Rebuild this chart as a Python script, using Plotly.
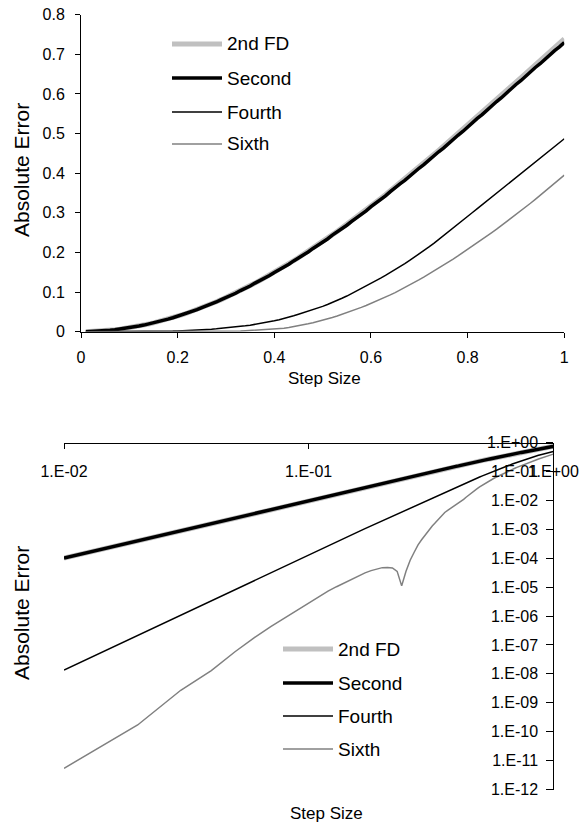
import plotly.graph_objects as go

# Step sizes h used for every scheme
step_size = [
    0.01, 0.02, 0.03, 0.04, 0.05, 0.06, 0.07, 0.08, 0.09, 0.10,
    0.11, 0.12, 0.13, 0.14, 0.15, 0.16, 0.17, 0.18, 0.19, 0.20,
    0.21, 0.22, 0.23, 0.24, 0.25, 0.26, 0.27, 0.28, 0.29, 0.30,
    0.31, 0.32, 0.33, 0.34, 0.35, 0.36, 0.37, 0.38, 0.39, 0.40,
    0.41, 0.42, 0.43, 0.44, 0.45, 0.46, 0.47, 0.48, 0.49, 0.50,
    0.51, 0.52, 0.53, 0.54, 0.55, 0.56, 0.57, 0.58, 0.59, 0.60,
    0.61, 0.62, 0.63, 0.64, 0.65, 0.66, 0.67, 0.68, 0.69, 0.70,
    0.71, 0.72, 0.73, 0.74, 0.75, 0.76, 0.77, 0.78, 0.79, 0.80,
    0.81, 0.82, 0.83, 0.84, 0.85, 0.86, 0.87, 0.88, 0.89, 0.90,
    0.91, 0.92, 0.93, 0.94, 0.95, 0.96, 0.97, 0.98, 0.99, 1.00,
]

# Absolute error of the second-order finite difference
err_2nd_fd = [
    1.00e-4, 4.00e-4, 9.00e-4, 1.60e-3, 2.50e-3, 3.59e-3, 4.89e-3, 6.37e-3, 8.05e-3, 9.93e-3,
    0.0120, 0.0143, 0.0167, 0.0194, 0.0222, 0.0253, 0.0285, 0.0318, 0.0354, 0.0391,
    0.0431, 0.0472, 0.0515, 0.0560, 0.0606, 0.0654, 0.0704, 0.0756, 0.0809, 0.0864,
    0.0920, 0.0978, 0.1038, 0.1099, 0.1162, 0.1226, 0.1292, 0.1359, 0.1428, 0.1498,
    0.1570, 0.1642, 0.1717, 0.1793, 0.1870, 0.1949, 0.2029, 0.2109, 0.2192, 0.2275,
    0.2360, 0.2445, 0.2532, 0.2621, 0.2710, 0.2800, 0.2892, 0.2984, 0.3077, 0.3171,
    0.3266, 0.3362, 0.3459, 0.3557, 0.3655, 0.3755, 0.3855, 0.3957, 0.4058, 0.4160,
    0.4263, 0.4371, 0.4471, 0.4576, 0.4681, 0.4786, 0.4892, 0.5000, 0.5106, 0.5214,
    0.5321, 0.5429, 0.5537, 0.5645, 0.5754, 0.5862, 0.5973, 0.6083, 0.6190, 0.6300,
    0.6409, 0.6517, 0.6628, 0.6737, 0.6847, 0.6956, 0.7065, 0.7174, 0.7282, 0.7388,
]

# Absolute error of the second-order scheme
err_second = [
    1.00e-4, 4.00e-4, 8.99e-4, 1.60e-3, 2.49e-3, 3.59e-3, 4.88e-3, 6.36e-3, 8.04e-3, 9.91e-3,
    0.0120, 0.0142, 0.0167, 0.0193, 0.0222, 0.0252, 0.0284, 0.0317, 0.0353, 0.0390,
    0.0432, 0.0468, 0.0516, 0.0555, 0.0608, 0.0649, 0.0706, 0.0750, 0.0810, 0.0857,
    0.0921, 0.0970, 0.1038, 0.1090, 0.1153, 0.1226, 0.1282, 0.1358, 0.1417, 0.1496,
    0.1558, 0.1639, 0.1704, 0.1787, 0.1856, 0.1943, 0.2012, 0.2102, 0.2175, 0.2267,
    0.2340, 0.2436, 0.2511, 0.2609, 0.2687, 0.2786, 0.2867, 0.2969, 0.3050, 0.3154,
    0.3237, 0.3343, 0.3428, 0.3536, 0.3621, 0.3731, 0.3818, 0.3930, 0.4018, 0.4131,
    0.4221, 0.4335, 0.4426, 0.4541, 0.4633, 0.4749, 0.4841, 0.4958, 0.5052, 0.5170,
    0.5264, 0.5382, 0.5477, 0.5595, 0.5690, 0.5809, 0.5905, 0.6024, 0.6119, 0.6239,
    0.6334, 0.6453, 0.6549, 0.6668, 0.6763, 0.6882, 0.6976, 0.7094, 0.7188, 0.7300,
]

# Absolute error of the fourth-order scheme
err_fourth = [
    1.35e-8, 2.16e-7, 1.09e-6, 3.46e-6, 8.41e-6, 1.74e-5, 3.19e-5, 5.41e-5, 8.60e-5, 1.30e-4,
    1.90e-4, 2.67e-4, 3.66e-4, 4.90e-4, 6.43e-4, 8.29e-4, 1.052e-3, 1.312e-3, 1.622e-3, 1.984e-3,
    2.392e-3, 2.858e-3, 3.386e-3, 3.981e-3, 4.648e-3, 5.392e-3, 6.218e-3, 7.130e-3, 8.169e-3, 9.315e-3,
    0.01053, 0.01185, 0.01328, 0.01483, 0.01651, 0.01831, 0.02024, 0.02242, 0.02475, 0.02740,
    0.0303, 0.0330, 0.0366, 0.0402, 0.0440, 0.0477, 0.0516, 0.0561, 0.0597, 0.0640,
    0.0688, 0.0737, 0.0781, 0.0843, 0.0900, 0.0962, 0.1025, 0.1095, 0.1153, 0.1220,
    0.1285, 0.1352, 0.1421, 0.1492, 0.1565, 0.1640, 0.1718, 0.1798, 0.1880, 0.1964,
    0.2050, 0.2139, 0.2231, 0.2325, 0.2421, 0.2518, 0.2616, 0.2714, 0.2812, 0.2910,
    0.3008, 0.3106, 0.3204, 0.3302, 0.3400, 0.3498, 0.3596, 0.3694, 0.3792, 0.3890,
    0.3988, 0.4086, 0.4184, 0.4282, 0.4380, 0.4478, 0.4576, 0.4674, 0.4772, 0.4870,
]

# Absolute error of the sixth-order scheme
err_sixth = [
    5.4e-12, 1.7e-10, 2.7e-9, 1.3e-8, 5.8e-8, 1.8e-7, 4.3e-7, 8.7e-7, 1.6e-6, 2.7e-6,
    4.6e-6, 7.2e-6, 1.03e-5, 1.4e-5, 1.9e-5, 2.5e-5, 3.1e-5, 3.7e-5, 4.3e-5, 4.7e-5,
    4.8e-5, 4.6e-5, 3.5e-5, 1.1e-5, 3.5e-5, 8.5e-5, 1.6e-4, 2.9e-4, 4.4e-4, 6.5e-4,
    9.5e-4, 1.3e-3, 1.7e-3, 2.3e-3, 3.0e-3, 3.8e-3, 4.5e-3, 5.2e-3, 6.1e-3, 7.0e-3,
    8.0e-3, 9.0e-3, 0.0108, 0.0128, 0.0150, 0.0174, 0.0200, 0.0228, 0.0258, 0.0290,
    0.0324, 0.0360, 0.0398, 0.0438, 0.0480, 0.0523, 0.0568, 0.0614, 0.0662, 0.0712,
    0.0763, 0.0816, 0.0871, 0.0928, 0.0987, 0.1048, 0.1111, 0.1176, 0.1243, 0.1312,
    0.1383, 0.1455, 0.1528, 0.1603, 0.1678, 0.1755, 0.1833, 0.1912, 0.1993, 0.2074,
    0.2157, 0.2241, 0.2326, 0.2412, 0.2500, 0.2588, 0.2678, 0.2769, 0.2861, 0.2954,
    0.3049, 0.3144, 0.3241, 0.3339, 0.3438, 0.3538, 0.3640, 0.3742, 0.3846, 0.3951,
]

series_names = ["2nd FD", "Second", "Fourth", "Sixth"]
series_values = [err_2nd_fd, err_second, err_fourth, err_sixth]

lin_ticks = [0, 0.2, 0.4, 0.6, 0.8, 1]
log_x_ticks = [1e-2, 1e-1, 1e0]
log_x_text = ["1.E-02", "1.E-01", "1.E+00"]
log_y_ticks = [1e0, 1e-1, 1e-2, 1e-3, 1e-4, 1e-5, 1e-6, 1e-7, 1e-8, 1e-9, 1e-10, 1e-11, 1e-12]
log_y_text = ["1.E+00", "1.E-01", "1.E-02", "1.E-03", "1.E-04", "1.E-05", "1.E-06",
              "1.E-07", "1.E-08", "1.E-09", "1.E-10", "1.E-11", "1.E-12"]

FONT = "Liberation Sans, Arial, sans-serif"
line_styles = [
    dict(color="#c0c0c0", width=5),
    dict(color="#000000", width=3.5),
    dict(color="#000000", width=1.5),
    dict(color="#808080", width=1.5),
]

W, H = 581, 827

fig = go.Figure()

for name, vals, style in zip(series_names, series_values, line_styles):
    fig.add_trace(go.Scatter(x=step_size, y=vals, mode="lines", name=name,
                             line=style, xaxis="x", yaxis="y", showlegend=False))

for name, vals, style in zip(series_names, series_values, line_styles):
    fig.add_trace(go.Scatter(x=step_size, y=vals, mode="lines", name=name,
                             line=style, xaxis="x2", yaxis="y2", showlegend=False))

axis_common = dict(
    showgrid=False, zeroline=False, showline=True, linecolor="#000000", linewidth=1,
    ticks="outside", tickcolor="#000000", tickwidth=1, automargin=False,
    tickfont=dict(family=FONT, size=16, color="#000000"),
)

# top panel: linear axes
x1_dom = [81 / W, 564.3 / W]
y1_dom = [1 - 331.7 / H, 1 - 14.7 / H]
# bottom panel: log axes crossing at the top-right corner
x2_dom = [64 / W, 553.3 / W]
y2_dom = [1 - 789.5 / H, 1 - 442.5 / H]

shapes = []
annotations = []


def add_legend(x0, x1, text_x, rows):
    # line samples and labels of one legend block, in pixel positions
    for (name, style), yy in zip(zip(series_names, line_styles), rows):
        shapes.append(dict(type="line", xref="paper", yref="paper",
                           x0=x0 / W, x1=x1 / W, y0=1 - yy / H, y1=1 - yy / H,
                           line=dict(color=style["color"], width=style["width"])))
        annotations.append(dict(text=name, x=text_x / W, y=1 - yy / H,
                                xref="paper", yref="paper", xanchor="left",
                                yanchor="middle", showarrow=False,
                                font=dict(family=FONT, size=19, color="#000000")))


add_legend(172, 222, 225, [44, 78, 112, 144])
add_legend(283, 333, 336, [649, 683, 716, 749])

for txt, px, py, ang, size in [
    ("Absolute Error", 21, 170, -90, 21),
    ("Step Size", 324, 378, 0, 17),
    ("Absolute Error", 21, 613, -90, 21),
    ("Step Size", 326, 813, 0, 17),
]:
    annotations.append(dict(text=txt, x=px / W, y=1 - py / H, xref="paper", yref="paper",
                            xanchor="center", yanchor="middle",
                            textangle=ang, showarrow=False,
                            font=dict(family=FONT, size=size, color="#000000")))

fig.update_layout(
    width=W, height=H,
    margin=dict(l=0, r=0, t=0, b=0),
    paper_bgcolor="white", plot_bgcolor="white",
    font=dict(family=FONT, color="#000000"),
    showlegend=False,
    xaxis=dict(domain=x1_dom, anchor="y", range=[0, 1], tickvals=lin_ticks,
               ticklen=5, ticklabelstandoff=6, **axis_common),
    yaxis=dict(domain=y1_dom, anchor="x", range=[0, 0.8], dtick=0.1,
               ticklen=5, ticklabelstandoff=7, **axis_common),
    xaxis2=dict(domain=x2_dom, anchor="free", position=y2_dom[1], side="bottom",
                type="log", range=[-2, 0], tickvals=log_x_ticks, ticktext=log_x_text,
                ticklen=5, ticklabelstandoff=9, **axis_common),
    yaxis2=dict(domain=y2_dom, anchor="free", position=x2_dom[1], side="left",
                type="log", range=[-12, 0], tickvals=log_y_ticks, ticktext=log_y_text,
                ticklen=7, ticklabelstandoff=5, **axis_common),
    shapes=shapes,
    annotations=annotations,
)

fig.write_html("out.html")
